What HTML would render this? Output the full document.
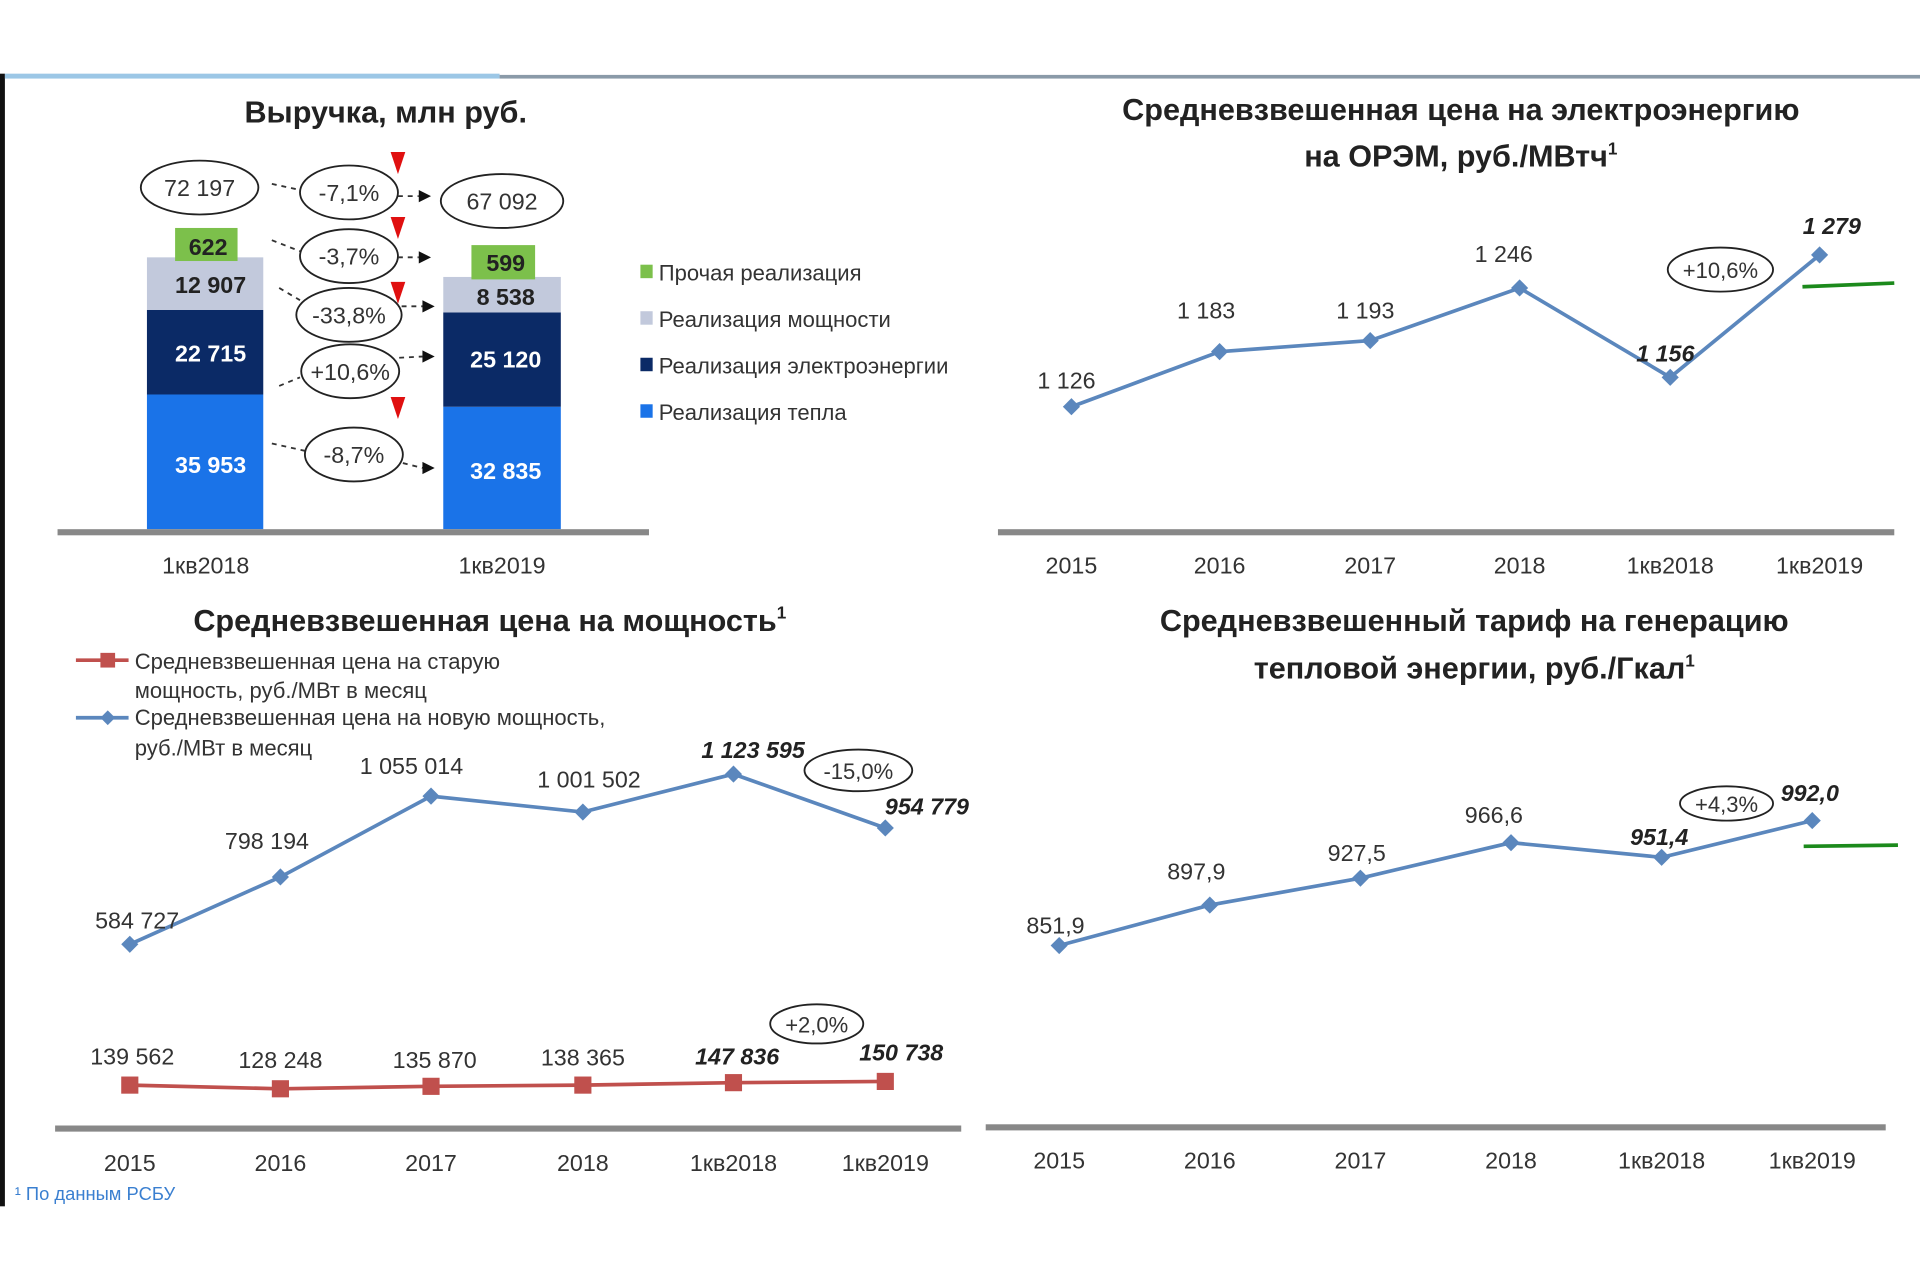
<!DOCTYPE html>
<html><head><meta charset="utf-8"><style>
html,body{margin:0;padding:0;background:#fff;}
svg{display:block;}
text{font-family:"Liberation Sans Narrow","Liberation Sans",sans-serif;fill:#222;}
.t{font-size:25px;font-weight:bold;text-anchor:middle;}
.v{font-size:19px;text-anchor:middle;fill:#333;}
.b{font-size:19px;text-anchor:middle;font-weight:bold;font-style:italic;}
.x{font-size:19px;text-anchor:middle;fill:#333;}
.lg{font-size:18px;fill:#333;}
.w{font-size:19px;text-anchor:middle;fill:#fff;font-weight:bold;}
.k{font-size:19px;text-anchor:middle;fill:#222;font-weight:bold;}
</style></head><body>
<svg width="1920" height="1280" viewBox="0 0 1568 1045" xmlns="http://www.w3.org/2000/svg">
<rect x="0" y="60" width="4" height="925" fill="#111"/>
<rect x="4" y="60" width="404" height="4" fill="#9cc7e6"/>
<rect x="408" y="61" width="1160" height="3" fill="#8a9aa8"/>

<!-- Revenue -->
<text class="t" x="315" y="100">Выручка, млн руб.</text>
<rect x="120" y="322" width="95" height="110" fill="#1a73e8"/>
<rect x="120" y="253" width="95" height="69" fill="#0b2a66"/>
<rect x="120" y="210" width="95" height="43" fill="#c2c9dc"/>
<rect x="143" y="186" width="51" height="27" fill="#7cc04b"/>
<rect x="362" y="332" width="96" height="100" fill="#1a73e8"/>
<rect x="362" y="255" width="96" height="77" fill="#0b2a66"/>
<rect x="362" y="226" width="96" height="29" fill="#c2c9dc"/>
<rect x="385" y="200" width="52" height="28" fill="#7cc04b"/>
<rect x="47" y="432" width="483" height="5" fill="#888"/>
<text class="k" x="170" y="208">622</text>
<text class="k" x="172" y="239">12 907</text>
<text class="w" x="172" y="295">22 715</text>
<text class="w" x="172" y="386">35 953</text>
<text class="k" x="413" y="221">599</text>
<text class="k" x="413" y="249">8 538</text>
<text class="w" x="413" y="300">25 120</text>
<text class="w" x="413" y="391">32 835</text>
<g fill="none" stroke="#222" stroke-width="1.5">
<ellipse cx="163" cy="153" rx="48" ry="22"/>
<ellipse cx="410" cy="164" rx="50" ry="22"/>
<ellipse cx="285" cy="157" rx="40" ry="22"/>
<ellipse cx="285" cy="209" rx="40" ry="22"/>
<ellipse cx="285" cy="257" rx="43" ry="22"/>
<ellipse cx="286" cy="303" rx="40" ry="22"/>
<ellipse cx="289" cy="371" rx="40" ry="22"/>
</g>
<g stroke="#333" stroke-width="1.5" stroke-dasharray="4,4">
<line x1="222" y1="150" x2="245" y2="155"/><line x1="325" y1="160" x2="342" y2="160"/>
<line x1="222" y1="196" x2="245" y2="205"/><line x1="325" y1="210" x2="342" y2="210"/>
<line x1="228" y1="235" x2="245" y2="245"/><line x1="328" y1="250" x2="345" y2="250"/>
<line x1="228" y1="315" x2="245" y2="308"/><line x1="326" y1="292" x2="345" y2="291"/>
<line x1="222" y1="362" x2="249" y2="368"/><line x1="329" y1="378" x2="345" y2="382"/>
</g>
<g fill="#111">
<polygon points="342,155 352,160 342,165"/><polygon points="342,205 352,210 342,215"/>
<polygon points="345,245 355,250 345,255"/><polygon points="345,286 355,291 345,296"/>
<polygon points="345,377 355,382 345,387"/>
</g>
<g fill="#e01010">
<polygon points="319,124 331,124 325,142"/><polygon points="319,177 331,177 325,195"/>
<polygon points="319,230 331,230 325,248"/><polygon points="319,324 331,324 325,342"/>
</g>
<g class="v" style="font-size:18px">
<text class="v" x="163" y="160">72 197</text><text class="v" x="410" y="171">67 092</text>
<text class="v" x="285" y="164">-7,1%</text><text class="v" x="285" y="216">-3,7%</text>
<text class="v" x="285" y="264">-33,8%</text><text class="v" x="286" y="310">+10,6%</text>
<text class="v" x="289" y="378">-8,7%</text>
</g>
<rect x="523" y="216" width="10" height="11" fill="#7cc04b"/>
<rect x="523" y="254" width="10" height="11" fill="#c2c9dc"/>
<rect x="523" y="292" width="10" height="11" fill="#0b2a66"/>
<rect x="523" y="330" width="10" height="11" fill="#1a73e8"/>
<text class="lg" x="538" y="229">Прочая реализация</text>
<text class="lg" x="538" y="267">Реализация мощности</text>
<text class="lg" x="538" y="305">Реализация электроэнергии</text>
<text class="lg" x="538" y="343">Реализация тепла</text>
<text class="x" x="168" y="468">1кв2018</text>
<text class="x" x="410" y="468">1кв2019</text>

<!-- Top right -->
<text class="t" x="1193" y="98">Средневзвешенная цена на электроэнергию</text>
<text class="t" x="1193" y="136">на ОРЭМ, руб./МВтч<tspan font-size="14" dy="-10">1</tspan></text>
<rect x="815" y="432" width="732" height="5" fill="#888"/>
<polyline points="875,332 996,287 1119,278 1241,235 1364,308 1486,208" fill="none" stroke="#5b87bd" stroke-width="3"/>
<g fill="#5b87bd">
<polygon points="875,325 882,332 875,339 868,332"/><polygon points="996,280 1003,287 996,294 989,287"/>
<polygon points="1119,271 1126,278 1119,285 1112,278"/><polygon points="1241,228 1248,235 1241,242 1234,235"/>
<polygon points="1364,301 1371,308 1364,315 1357,308"/><polygon points="1486,201 1493,208 1486,215 1479,208"/>
</g>
<line x1="1472" y1="234" x2="1547" y2="231" stroke="#1c8a1c" stroke-width="3"/>
<text class="v" x="871" y="317">1 126</text><text class="v" x="985" y="260">1 183</text>
<text class="v" x="1115" y="260">1 193</text><text class="v" x="1228" y="214">1 246</text>
<text class="b" x="1360" y="295">1 156</text><text class="b" x="1496" y="191">1 279</text>
<ellipse cx="1405" cy="220" rx="43" ry="18" fill="none" stroke="#222" stroke-width="1.5"/>
<text class="v" x="1405" y="227" style="font-size:18px">+10,6%</text>
<g class="x"><text class="x" x="875" y="468">2015</text><text class="x" x="996" y="468">2016</text><text class="x" x="1119" y="468">2017</text><text class="x" x="1241" y="468">2018</text><text class="x" x="1364" y="468">1кв2018</text><text class="x" x="1486" y="468">1кв2019</text></g>

<!-- Bottom left -->
<text class="t" x="400" y="515">Средневзвешенная цена на мощность<tspan font-size="14" dy="-10">1</tspan></text>
<line x1="62" y1="539" x2="105" y2="539" stroke="#c0504d" stroke-width="3"/>
<rect x="82" y="533" width="12" height="12" fill="#c0504d"/>
<text class="lg" x="110" y="546">Средневзвешенная цена на старую</text>
<text class="lg" x="110" y="570">мощность,  руб./МВт в месяц</text>
<line x1="62" y1="586" x2="105" y2="586" stroke="#5b87bd" stroke-width="3"/>
<polygon points="88,580 94,586 88,592 82,586" fill="#5b87bd"/>
<text class="lg" x="110" y="592">Средневзвешенная цена на новую мощность,</text>
<text class="lg" x="110" y="617">руб./МВт в месяц</text>
<polyline points="106,771 229,716 352,650 476,663 599,632 723,676" fill="none" stroke="#5b87bd" stroke-width="3"/>
<g fill="#5b87bd">
<polygon points="106,764 113,771 106,778 99,771"/><polygon points="229,709 236,716 229,723 222,716"/>
<polygon points="352,643 359,650 352,657 345,650"/><polygon points="476,656 483,663 476,670 469,663"/>
<polygon points="599,625 606,632 599,639 592,632"/><polygon points="723,669 730,676 723,683 716,676"/>
</g>
<text class="v" x="112" y="758">584 727</text><text class="v" x="218" y="693">798 194</text>
<text class="v" x="336" y="632">1 055 014</text><text class="v" x="481" y="643">1 001 502</text>
<text class="b" x="615" y="619">1 123 595</text><text class="b" x="757" y="665">954 779</text>
<ellipse cx="701" cy="629" rx="44" ry="17" fill="none" stroke="#222" stroke-width="1.5"/>
<text class="v" x="701" y="636" style="font-size:18px">-15,0%</text>
<polyline points="106,886 229,889 352,887 476,886 599,884 723,883" fill="none" stroke="#c0504d" stroke-width="3"/>
<g fill="#c0504d">
<rect x="99" y="879" width="14" height="14"/><rect x="222" y="882" width="14" height="14"/>
<rect x="345" y="880" width="14" height="14"/><rect x="469" y="879" width="14" height="14"/>
<rect x="592" y="877" width="14" height="14"/><rect x="716" y="876" width="14" height="14"/>
</g>
<text class="v" x="108" y="869">139 562</text><text class="v" x="229" y="872">128 248</text>
<text class="v" x="355" y="872">135 870</text><text class="v" x="476" y="870">138 365</text>
<text class="b" x="602" y="869">147 836</text><text class="b" x="736" y="866">150 738</text>
<ellipse cx="667" cy="836" rx="38" ry="16" fill="none" stroke="#222" stroke-width="1.5"/>
<text class="v" x="667" y="843" style="font-size:18px">+2,0%</text>
<rect x="45" y="919" width="740" height="5" fill="#888"/>
<text class="x" x="106" y="956">2015</text><text class="x" x="229" y="956">2016</text><text class="x" x="352" y="956">2017</text><text class="x" x="476" y="956">2018</text><text class="x" x="599" y="956">1кв2018</text><text class="x" x="723" y="956">1кв2019</text>
<text x="12" y="980" style="font-size:15px;fill:#3a7fd0">¹ По данным РСБУ</text>

<!-- Bottom right -->
<text class="t" x="1204" y="515">Средневзвешенный тариф на генерацию</text>
<text class="t" x="1204" y="554">тепловой энергии, руб./Гкал<tspan font-size="14" dy="-10">1</tspan></text>
<polyline points="865,772 988,739 1111,717 1234,688 1357,700 1480,670" fill="none" stroke="#5b87bd" stroke-width="3"/>
<g fill="#5b87bd">
<polygon points="865,765 872,772 865,779 858,772"/><polygon points="988,732 995,739 988,746 981,739"/>
<polygon points="1111,710 1118,717 1111,724 1104,717"/><polygon points="1234,681 1241,688 1234,695 1227,688"/>
<polygon points="1357,693 1364,700 1357,707 1350,700"/><polygon points="1480,663 1487,670 1480,677 1473,670"/>
</g>
<line x1="1473" y1="691" x2="1550" y2="690" stroke="#1c8a1c" stroke-width="3"/>
<text class="v" x="862" y="762">851,9</text><text class="v" x="977" y="718">897,9</text>
<text class="v" x="1108" y="703">927,5</text><text class="v" x="1220" y="672">966,6</text>
<text class="b" x="1355" y="690">951,4</text><text class="b" x="1478" y="654">992,0</text>
<ellipse cx="1410" cy="656" rx="38" ry="14" fill="none" stroke="#222" stroke-width="1.5"/>
<text class="v" x="1410" y="663" style="font-size:18px">+4,3%</text>
<rect x="805" y="918" width="735" height="5" fill="#888"/>
<text class="x" x="865" y="954">2015</text><text class="x" x="988" y="954">2016</text><text class="x" x="1111" y="954">2017</text><text class="x" x="1234" y="954">2018</text><text class="x" x="1357" y="954">1кв2018</text><text class="x" x="1480" y="954">1кв2019</text>
</svg>
</body></html>
